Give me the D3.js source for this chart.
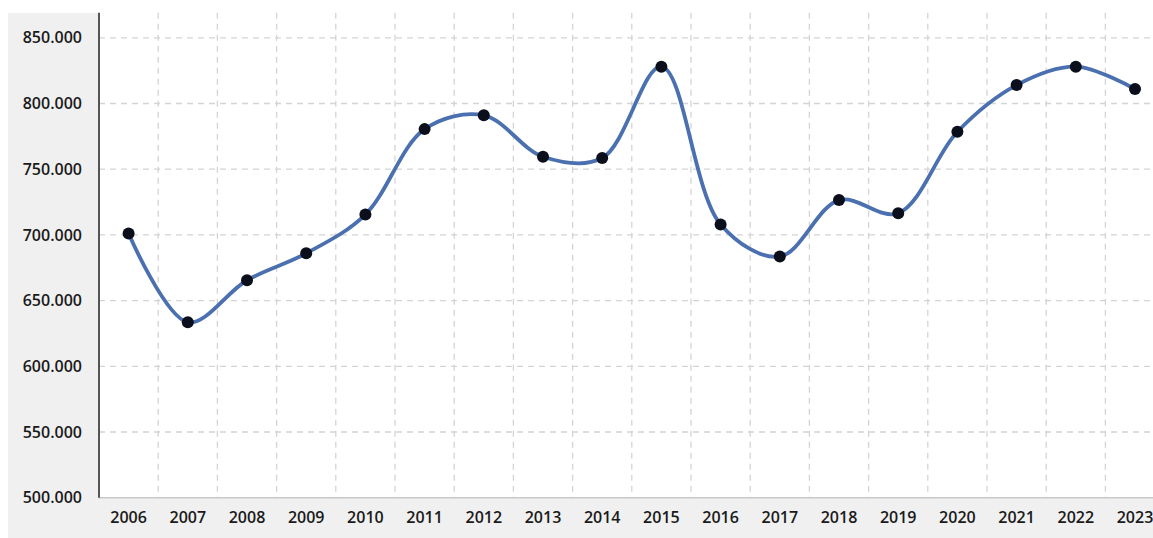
<!DOCTYPE html>
<html>
<head>
<meta charset="utf-8">
<script src="https://cdn.jsdelivr.net/npm/d3@7"></script>
<style>
  body { margin: 0; background: #fff; }
  svg { display: block; font-family: "Open Sans", sans-serif; }
</style>
</head>
<body>
<svg id="chart" width="1153" height="538"></svg>
<script>
// values (thousands)
var years = ['2006', '2007', '2008', '2009', '2010', '2011', '2012', '2013', '2014',
             '2015', '2016', '2017', '2018', '2019', '2020', '2021', '2022', '2023'];
var values = [701, 633.5, 665.5, 686, 715.5, 780.5, 791, 759.5, 758.5,
              828, 708, 683.5, 726.5, 716.5, 778.5, 814, 828, 811];
var yTicks = [500, 550, 600, 650, 700, 750, 800, 850];

var W = 1153, H = 538;
var plotLeft = 99, plotBottom = 497.7, plotTop = 37.8;

var svg = d3.select('#chart');

var x = d3.scaleBand().domain(years).range([plotLeft, plotLeft + years.length * 59.2]).padding(0);
var y = d3.scaleLinear().domain([500, 850]).range([plotBottom, plotTop]);
var axisTop = y(869);

// grey frame behind the labels
svg.append('rect').attr('x', 8).attr('y', axisTop).attr('width', plotLeft - 8).attr('height', H - axisTop).attr('fill', '#f0f0f0');
svg.append('rect').attr('x', 8).attr('y', plotBottom).attr('width', W - 8).attr('height', H - plotBottom).attr('fill', '#f0f0f0');

// dashed grid
svg.append('g').selectAll('line').data(yTicks.slice(1)).enter().append('line')
    .attr('x1', plotLeft).attr('x2', W)
    .attr('y1', function(d){ return y(d); }).attr('y2', function(d){ return y(d); })
    .attr('stroke', '#d4d4d4').attr('stroke-width', 1.3).attr('stroke-dasharray', '6,5');
svg.append('g').selectAll('line').data(years).enter().append('line')
    .attr('x1', function(d){ return x(d) + x.bandwidth(); })
    .attr('x2', function(d){ return x(d) + x.bandwidth(); })
    .attr('y1', axisTop).attr('y2', plotBottom)
    .attr('stroke', '#d4d4d4').attr('stroke-width', 1.3).attr('stroke-dasharray', '6,5');

// axes
var yAxis = d3.axisLeft(y).tickValues(yTicks).tickSize(0).tickPadding(17)
    .tickFormat(function(d){ return d3.format('.3f')(d); });
var gy = svg.append('g').attr('transform', 'translate(' + plotLeft + ',0)').call(yAxis);
gy.select('.domain').remove();
gy.selectAll('text').attr('font-size', 16).attr('font-weight', 600).attr('fill', '#1a1a1a')
    .attr('font-family', '"Open Sans", sans-serif');

var xAxis = d3.axisBottom(x).tickSize(0).tickPadding(14);
var gx = svg.append('g').attr('transform', 'translate(0,' + plotBottom + ')').call(xAxis);
gx.select('.domain').remove();
gx.selectAll('text').attr('font-size', 16).attr('font-weight', 600).attr('fill', '#1a1a1a')
    .attr('font-family', '"Open Sans", sans-serif');

svg.append('line').attr('x1', plotLeft).attr('x2', W).attr('y1', plotBottom).attr('y2', plotBottom)
    .attr('stroke', '#c8c8c8').attr('stroke-width', 1.5);
svg.append('line').attr('x1', plotLeft).attr('x2', plotLeft).attr('y1', axisTop).attr('y2', plotBottom)
    .attr('stroke', '#555').attr('stroke-width', 2);

// smoothed line + markers
var pts = years.map(function(d, i){ return [x(d) + x.bandwidth() / 2, y(values[i])]; });
var line = d3.line().curve(d3.curveCatmullRom.alpha(0.5));
svg.append('path').attr('d', line(pts)).attr('fill', 'none')
    .attr('stroke', '#4a70b0').attr('stroke-width', 3.8);
svg.append('g').selectAll('circle').data(pts).enter().append('circle')
    .attr('cx', function(d){ return d[0]; }).attr('cy', function(d){ return d[1]; })
    .attr('r', 6).attr('fill', '#0b0f1c');
</script>
</body>
</html>
